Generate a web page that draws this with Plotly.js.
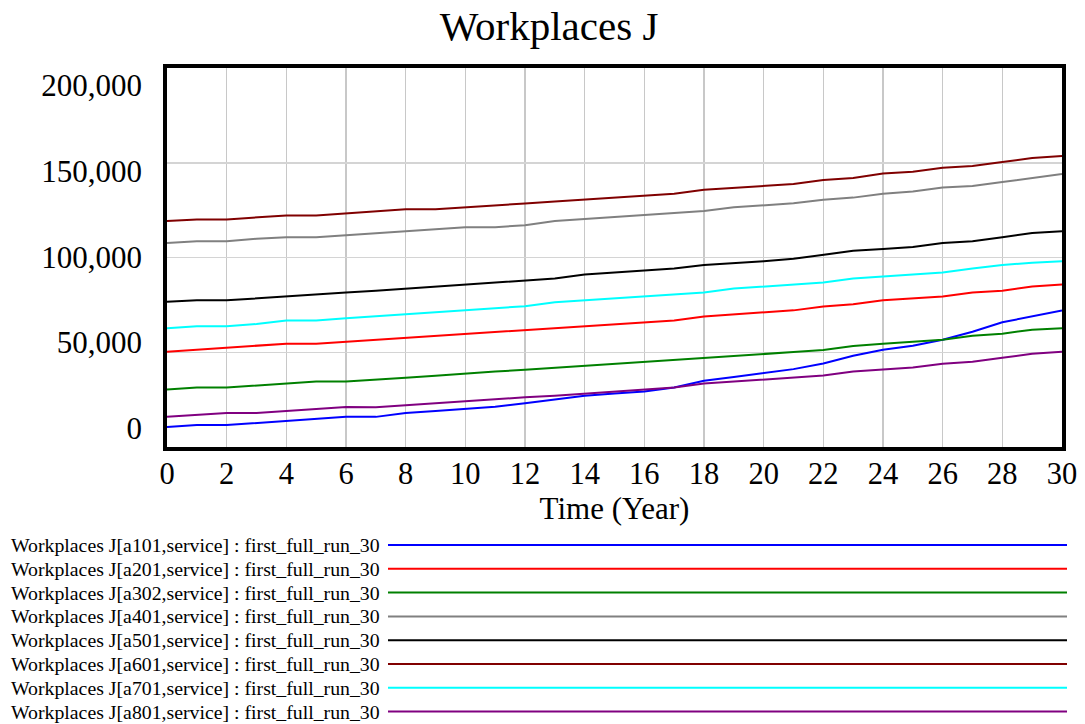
<!DOCTYPE html>
<html>
<head>
<meta charset="utf-8">
<script src="https://cdn.plot.ly/plotly-3.0.1.min.js"></script>
<style>html,body{margin:0;padding:0;background:#fff;}</style>
</head>
<body>
<div id="chart" style="width:1085px;height:724px;"></div>
<script>
// ---- data ----
const years = [0,1,2,3,4,5,6,7,8,9,10,11,12,13,14,15,16,17,18,19,20,21,22,23,24,25,26,27,28,29,30];
const a101 = [10600,11600,11600,12700,13800,14800,15900,15900,18000,19000,20100,21200,23100,25000,27100,28200,29300,31400,34900,36900,39000,41100,44100,48100,51300,53400,56600,60800,65800,68900,72100];
const a201 = [50300,51300,52400,53400,54500,54500,55500,56500,57500,58600,59600,60700,61600,62600,63700,64700,65800,66800,68900,70000,71100,72100,74200,75300,77400,78300,79400,81500,82500,84700,85700];
const a302 = [30300,31400,31400,32400,33500,34600,34500,35400,36500,37600,38800,39800,40800,41800,42900,43900,45000,46000,47000,48000,49000,50100,51200,53300,54500,55600,56600,58700,59800,61900,62600];
const a401 = [107600,108600,108600,109900,110700,110700,111800,112900,113900,115000,116000,116000,117000,119200,120300,121300,122400,123400,124600,126500,127500,128600,130500,131600,133700,134800,136900,137700,139800,142000,144100];
const a501 = [76600,77400,77400,78500,79500,80400,81500,82500,83600,84700,85700,86800,87900,88900,91000,92100,93100,94200,96100,97000,98000,99300,101400,103500,104500,105500,107600,108600,110700,112900,113900];
const a601 = [119200,120100,120100,121300,122200,122200,123300,124300,125400,125400,126500,127700,128500,129500,130500,131600,132600,133700,135700,136700,137700,138800,140900,142000,144300,145300,147300,148300,150400,152500,153600];
const a701 = [62600,63700,63700,64900,66800,66800,67900,68900,70000,71100,72100,73200,74300,76400,77400,78500,79500,80600,81500,83600,84700,85700,86800,88900,89900,91000,92100,94200,96100,97200,98000];
const a801 = [15900,16900,18000,18000,19000,20100,21100,21000,22100,23100,24200,25200,26200,27100,28200,29300,30300,31400,33500,34600,35600,36700,37700,39800,41000,42000,43900,45000,47100,49200,50300];

const seriesValues = [a101, a201, a302, a401, a501, a601, a701, a801];
const seriesNames = [
  'Workplaces J[a101,service] : first_full_run_30',
  'Workplaces J[a201,service] : first_full_run_30',
  'Workplaces J[a302,service] : first_full_run_30',
  'Workplaces J[a401,service] : first_full_run_30',
  'Workplaces J[a501,service] : first_full_run_30',
  'Workplaces J[a601,service] : first_full_run_30',
  'Workplaces J[a701,service] : first_full_run_30',
  'Workplaces J[a801,service] : first_full_run_30'
];
const seriesColors = ['#0000ff','#ff0000','#008000','#808080','#000000','#800000','#00ffff','#800080'];

const xTickVals = [0,2,4,6,8,10,12,14,16,18,20,22,24,26,28,30];
const yTickVals = [0,50000,100000,150000,200000];
const yTickText = ['0','50,000','100,000','150,000','200,000'];
const chartTitle = 'Workplaces J';
const xTitle = 'Time (Year)';

// ---- layout geometry (pixels) ----
const W = 1085, H = 724;
const L = 167, R = 1062, T = 68, B = 447;
const FONT = 'Liberation Serif, Times New Roman, serif';

function px2paperX(px){ return (px - L) / (R - L); }
function px2paperY(py){ return (B - py) / (B - T); }

const traces = seriesValues.map((vals, i) => ({
  x: years, y: vals, type: 'scatter', mode: 'lines',
  name: seriesNames[i],
  line: {color: seriesColors[i], width: 2},
  showlegend: false, hoverinfo: 'skip'
}));
// empty trace that anchors the label axis
traces.push({x: [], y: [], yaxis: 'y2', type: 'scatter', mode: 'lines', showlegend: false, hoverinfo: 'skip'});

// label axis: Vensim-style label placement (labels at 85.5 .. 428 px)
const lblTop = 85.5, lblBot = 428;
const perPx = 200000 / (lblBot - lblTop);
const y2Range = [(lblBot - B) * perPx, (lblBot - T) * perPx];

const annotations = [];
const shapes = [];
const rowY0 = 545, rowStep = 23.8;
seriesNames.forEach((nm, i) => {
  const py = rowY0 + i * rowStep;
  annotations.push({
    text: nm, xref: 'paper', yref: 'paper',
    x: px2paperX(9), y: px2paperY(py), xanchor: 'left', yanchor: 'middle',
    showarrow: false, font: {family: FONT, size: 19.8, color: '#000'}
  });
  shapes.push({
    type: 'line', xref: 'paper', yref: 'paper',
    x0: px2paperX(388), x1: px2paperX(1067), y0: px2paperY(py), y1: px2paperY(py),
    line: {color: seriesColors[i], width: 2}
  });
});

const layout = {
  width: W, height: H,
  margin: {l: L, r: W - R, t: T, b: H - B, pad: 0},
  paper_bgcolor: '#fff', plot_bgcolor: '#fff',
  showlegend: false,
  title: {
    text: chartTitle, font: {family: FONT, size: 41, color: '#000'},
    xref: 'container', yref: 'container', x: 549 / W, xanchor: 'center',
    y: 1 - 26 / H, yanchor: 'middle'
  },
  xaxis: {
    range: [0, 30], tickvals: xTickVals, ticks: '',
    showgrid: true, gridcolor: '#c8c8c8', gridwidth: 1.5,
    zeroline: false, showline: true, mirror: true, linecolor: '#000', linewidth: 4,
    tickfont: {family: FONT, size: 30.5, color: '#000'},
    ticklabelstandoff: -4,
    automargin: false,
    title: {text: xTitle, font: {family: FONT, size: 31, color: '#000'}, standoff: 8}
  },
  yaxis: {
    range: [0, 200000], tickvals: yTickVals, showticklabels: false, ticks: '',
    showgrid: true, gridcolor: '#d4d4d4', gridwidth: 1.5,
    zeroline: false, showline: true, mirror: true, linecolor: '#000', linewidth: 4,
    automargin: false
  },
  yaxis2: {
    overlaying: 'y', anchor: 'x', side: 'left',
    range: y2Range, tickvals: yTickVals, ticktext: yTickText, ticks: '',
    showgrid: false, zeroline: false, showline: false,
    tickfont: {family: FONT, size: 31, color: '#000'},
    ticklabelstandoff: 24, automargin: false
  },
  annotations: annotations,
  shapes: shapes
};

Plotly.newPlot('chart', traces, layout, {displayModeBar: false, staticPlot: true});
</script>
</body>
</html>
